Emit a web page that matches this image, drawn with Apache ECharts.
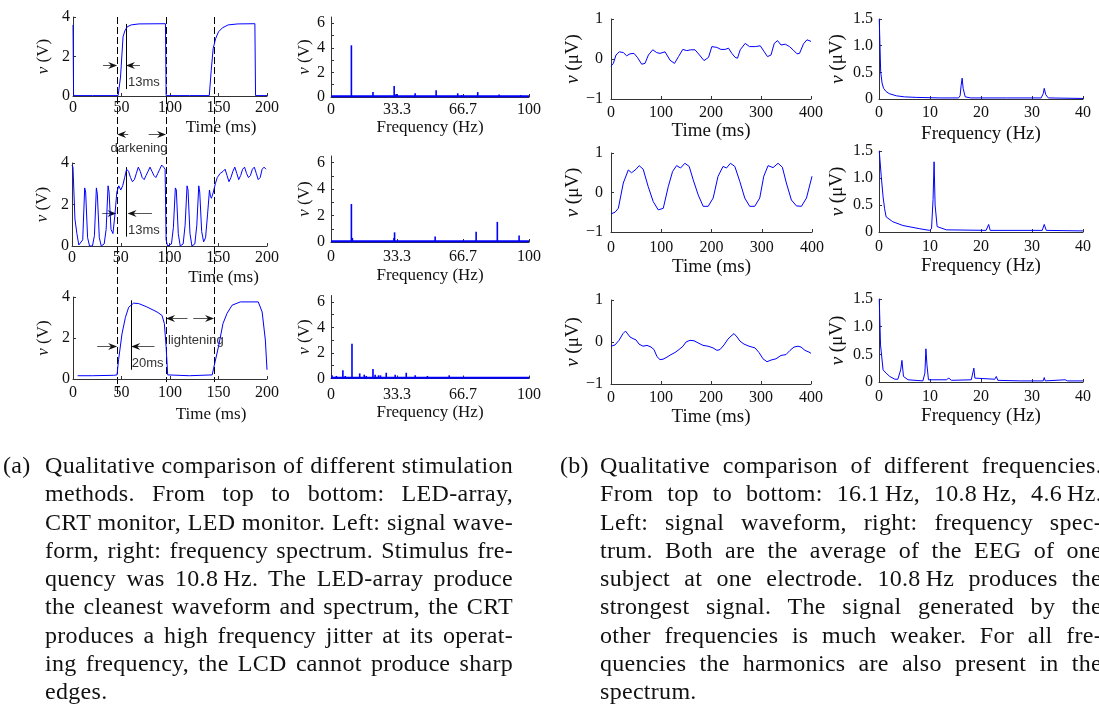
<!DOCTYPE html>
<html>
<head>
<meta charset="utf-8">
<script src="https://cdn.jsdelivr.net/npm/echarts@6/dist/echarts.min.js"></script>
<style>
  html, body { margin: 0; padding: 0; background: #fff; overflow: hidden; }
  #chart { position: absolute; left: 0; top: 0; width: 1099px; height: 709px; }
  .cap { position: absolute; font-family: 'Liberation Serif', serif; font-size: 24px; letter-spacing: 0.3px; line-height: 28.3px; color: #111; }
  .cap .tag { position: absolute; top: 0; }
  .cap .ln { text-align: justify; text-align-last: justify; }
  .cap .ln.last { text-align-last: left; }
</style>
</head>
<body>
<div id="chart"></div>

<div class="cap" style="left:0;top:451px;width:513px">
  <span class="tag" style="left:3px">(a)</span>
  <div style="margin-left:45px">
    <div class="ln">Qualitative comparison of different stimulation</div>
    <div class="ln">methods. From top to bottom: LED-array,</div>
    <div class="ln">CRT monitor, LED monitor. Left: signal wave-</div>
    <div class="ln">form, right: frequency spectrum. Stimulus fre-</div>
    <div class="ln">quency was 10.8&#8201;Hz. The LED-array produce</div>
    <div class="ln">the cleanest waveform and spectrum, the CRT</div>
    <div class="ln">produces a high frequency jitter at its operat-</div>
    <div class="ln">ing frequency, the LCD cannot produce sharp</div>
    <div class="ln last">edges.</div>
  </div>
</div>

<div class="cap" style="left:556px;top:451px;width:546px">
  <span class="tag" style="left:4px">(b)</span>
  <div style="margin-left:44px">
    <div class="ln">Qualitative comparison of different frequencies.</div>
    <div class="ln">From top to bottom: 16.1&#8201;Hz, 10.8&#8201;Hz, 4.6&#8201;Hz.</div>
    <div class="ln">Left: signal waveform, right: frequency spec-</div>
    <div class="ln">trum. Both are the average of the EEG of one</div>
    <div class="ln">subject at one electrode. 10.8&#8201;Hz produces the</div>
    <div class="ln">strongest signal. The signal generated by the</div>
    <div class="ln">other frequencies is much weaker. For all fre-</div>
    <div class="ln">quencies the harmonics are also present in the</div>
    <div class="ln last">spectrum.</div>
  </div>
</div>

<script>
// ---- (a) stimulus waveforms [t ms, v V] ----
var ledArrayWave = [[0,3.6],[0.6,0.02],[20,0.02],[46.5,0.02],[49,0.96],[51.6,3.0],[53.4,3.29],[55.8,3.5],[60,3.6],[68,3.65],[95.3,3.66],
  [96,0.02],[120,0.02],[140.5,0.02],[142.5,1.3],[144.5,2.4],[147,2.9],[150,3.25],[154,3.45],[160,3.6],[170,3.65],[187.5,3.66],[188.2,0.02],[200,0.02]];
var crtWave = [[0,3.9],[1,3.8],[3,1.3],[5,0.6],[7,0.05],[9,0.0],[11,0.3],[13,2.8],[14,2.6],[16,0.4],[18,0.0],[21,0.0],[23,0.5],[25,2.8],[26,2.5],
  [28,0.4],[30,0.0],[33,0.1],[35,0.8],[37,2.9],[38,2.6],[40,0.8],[42,0.6],[44,1.5],[46,2.6],[48,2.9],[50,2.7],[52,2.9],[54,3.3],[56,3.7],
  [58,3.6],[60,3.3],[62,3.1],[64,3.2],[66,3.5],[68,3.8],[70,3.6],[72,3.3],[74,3.2],[76,3.4],[78,3.6],[80,3.8],[82,3.6],[84,3.4],[86,3.3],
  [88,3.5],[90,3.7],[92,3.9],[94,3.8],[95.5,3.7],[96.5,0.3],[98,0.0],[100,0.0],[102,0.1],[104,0.9],[106,2.8],[107,2.7],[109,0.6],[111,0.0],
  [114,0.1],[116,1.0],[118,2.9],[119,2.7],[121,0.6],[123,0.0],[126,0.1],[128,1.0],[130,2.9],[131,2.6],[133,0.7],[135,0.2],[137,0.4],
  [139,1.5],[141,2.7],[142,2.4],[143,2.3],[145,2.6],[147,3.0],[149,3.3],[152,3.5],[155,3.6],[157,3.7],[159,3.4],[161,3.1],[163,3.3],
  [165,3.6],[167,3.8],[169,3.5],[171,3.2],[173,3.4],[175,3.7],[177,3.8],[179,3.5],[181,3.3],[183,3.4],[185,3.7],[187,3.8],[189,3.5],
  [191,3.2],[193,3.3],[195,3.7],[197,3.8],[199,3.7]];
var lcdWave = [[4.8,0.16],[20,0.16],[42,0.18],[45.4,0.2],[47,0.94],[50.5,2.2],[54,3.0],[57.4,3.5],[62.5,3.7],[67.7,3.68],[76,3.52],[86.6,3.27],
  [91.8,3.1],[94.2,2.7],[96,1.58],[97.6,0.2],[120,0.16],[143.5,0.2],[145,0.53],[150,1.58],[154.6,2.7],[158.8,3.2],[164,3.6],[172.5,3.76],
  [191,3.76],[195,3.27],[198.3,1.9],[200,0.45]];

// ---- (a) spectra [f Hz, v V] ----
var ledArraySpec = [[10.3,4.2],[21.2,0.4],[31.9,0.9],[32.9,0.25],[42.5,0.3],[53.1,0.55],[64,0.3],[66,0.15],[74.1,0.4],[84.9,0.2],[95.8,0.15]];
var crtSpec = [[10.3,2.87],[10.8,0.3],[31.8,0.3],[32.1,0.73],[52.6,0.42],[73.3,0.78],[84,1.52],[95,0.49]];
var lcdSpec = [[0.5,0.25],[2.7,0.2],[6,0.65],[7.2,0.2],[10.6,2.72],[14.5,0.4],[16.8,0.3],[17.8,0.2],[21.2,0.75],[22.3,0.3],[24,0.25],
  [25,0.25],[27.9,0.45],[32.4,0.3],[38,0.45],[42.5,0.25],[48.7,0.2],[59.7,0.25],[66.4,0.1]];
var specFloor = [[0,0.06],[100,0.06]];

// ---- (b) EEG waveforms [t ms, v uV] ----
var eeg16Wave = [[0,-0.18],[4.7,-0.11],[10,0.1],[16.7,0.18],[24.7,0.16],[31.4,0.08],[38,0.13],[46,0.14],[52.8,0.04],[61.4,-0.13],[68,-0.11],
  [74.8,0.1],[83.5,0.23],[91.5,0.16],[98,0.14],[108,0.18],[118,-0.03],[127,-0.11],[135,0.06],[143.6,0.24],[151.6,0.21],[159.6,0.23],
  [168,0.23],[177,0.1],[186,-0.04],[195,0.04],[201.7,0.31],[211.7,0.29],[219.7,0.24],[228.4,0.24],[235,0.27],[241.7,0.14],[248.4,0.04],
  [253,0.02],[258.4,0.23],[268.4,0.39],[277,0.31],[288.5,0.31],[298.5,0.33],[306.5,0.18],[313,0.06],[320,0.1],[326.5,0.39],[333,0.46],
  [340,0.35],[348.6,0.37],[357,0.31],[364,0.23],[372,0.13],[377,0.14],[385,0.38],[392,0.48],[400,0.44]];
var eeg11Wave = [[0,-0.54],[8,-0.5],[14.6,-0.4],[24.5,0.24],[34.4,0.57],[41,0.5],[50,0.59],[56,0.68],[64,0.59],[74,0.15],[84,-0.23],[94,-0.44],
  [104,-0.4],[114,0.15],[122.5,0.53],[130.5,0.68],[138.4,0.62],[147,0.74],[155.6,0.66],[163.6,0.32],[173.5,-0.06],[183.4,-0.35],[193.4,-0.35],
  [203.3,-0.14],[213,0.41],[223,0.66],[229.8,0.62],[237.7,0.74],[246.4,0.66],[256.3,0.28],[266.2,-0.14],[276,-0.35],[286,-0.35],[296,-0.14],
  [304,0.41],[312.6,0.68],[322.5,0.63],[332.5,0.74],[341,0.64],[349,0.24],[359,-0.19],[369,-0.34],[379,-0.35],[389,-0.14],[400,0.41]];
var eeg5Wave = [[0,-0.1],[8,-0.07],[16,0.04],[24,0.2],[29,0.26],[33,0.24],[38,0.12],[44,0.08],[50,0.05],[56,-0.05],[64,-0.1],[72,-0.08],
  [80,-0.12],[86,-0.18],[92,-0.35],[98,-0.42],[104,-0.41],[112,-0.36],[120,-0.3],[128,-0.25],[136,-0.18],[144,-0.1],[150,0],[158,0.04],
  [166,0.03],[174,-0.02],[184,-0.08],[194,-0.1],[204,-0.14],[212,-0.2],[218,-0.18],[226,-0.07],[234,0.07],[240,0.14],[246,0.2],[252,0.12],
  [258,0.02],[266,-0.05],[276,-0.1],[288,-0.14],[296,-0.25],[304,-0.4],[312,-0.47],[320,-0.43],[330,-0.4],[340,-0.32],[350,-0.3],[358,-0.2],
  [366,-0.12],[374,-0.1],[380,-0.12],[388,-0.2],[396,-0.24],[400,-0.27]];

// ---- (b) EEG spectra [f Hz, v uV] ----
var eeg16Spec = [[0.05,1.5],[0.33,0.51],[0.6,0.3],[0.9,0.2],[1.4,0.14],[2,0.1],[3.4,0.06],[5,0.04],[7.3,0.03],[12,0.02],[15.6,0.02],[15.9,0.06],
  [16.1,0.25],[16.3,0.39],[16.5,0.2],[16.9,0.04],[18,0.02],[25,0.02],[31.8,0.02],[32.2,0.1],[32.4,0.2],[32.7,0.08],[33.2,0.02],[40,0.01]];
var eeg11Spec = [[0.05,1.5],[0.45,1.02],[0.8,0.65],[1.1,0.43],[1.4,0.28],[2.7,0.19],[4.7,0.12],[8,0.06],[9.9,0.03],[10.3,0.06],[10.6,0.6],
  [10.8,1.3],[11,0.5],[11.4,0.1],[13.2,0.04],[21,0.03],[21.5,0.14],[21.8,0.03],[32,0.03],[32.4,0.14],[32.8,0.03],[40,0.02]];
var eeg5Spec = [[0.05,1.5],[0.3,0.67],[0.8,0.22],[1.4,0.16],[2.1,0.1],[3.1,0.05],[3.7,0.05],[4.25,0.22],[4.5,0.39],[4.8,0.1],[5.7,0.04],
  [8.6,0.02],[9,0.16],[9.2,0.6],[9.4,0.31],[9.7,0.04],[13.2,0.04],[13.7,0.07],[14.2,0.03],[18.1,0.04],[18.6,0.25],[18.8,0.07],[22.7,0.05],
  [23,0.1],[23.3,0.03],[27.6,0.02],[27.8,0.05],[28,0.02],[32.2,0.02],[32.4,0.08],[32.6,0.02],[36.5,0.04],[36.7,0.06],[37,0.02],[40,0.02]];

// ---- tick values ----
var timeTicksA = [0, 50, 100, 150, 200];
var voltTicksA = [0, 2, 4];
var freqTicksA = [0, 33.3, 66.7, 100];
var specTicksA = [0, 2, 4, 6];
var specMinorA = [0, 1, 2, 3, 4, 5, 6];
var timeTicksB = [0, 100, 200, 300, 400];
var eegTicks = [-1, 0, 1];
var freqTicksB = [0, 10, 20, 30, 40];
var eegSpecTicks = [0, 0.5, 1.0, 1.5];

// ---- annotations on the (a) waveforms ----
var guideTimes = [[45.5, -0.8], [95.9, -0.15], [145.4, -0.15]];   // dashed: time, bottom value in lowest panel
var edgeMarks = [[0, 54.6, 3.65, 0.35], [1, 55.2, 3.8, 0.45], [2, 59.8, 3.84, 0.45]];
var arrows = [[0, 31, 45.5, 1.57], [0, 69, 54.6, 1.57], [0, 57, 45.5, -1.92], [0, 78, 95.9, -1.92],
  [1, 31, 45.5, 1.59], [1, 82, 57, 1.59], [2, 25, 45.5, 1.6], [2, 84, 60, 1.6], [2, 118, 95.9, 2.97], [2, 124, 145.4, 2.97]];
var notes = [[0, 56.7, 0.71, '13ms', 'left'], [0, 68, -2.63, 'darkening', 'center'], [1, 57.4, 0.74, '13ms', 'left'],
  [2, 60.5, 0.77, '20ms', 'left'], [2, 126.6, 1.9, 'lightening', 'center']];

var FONT = 'Liberation Serif';
var BLUE = '#0000ff';
var AXC = '#333';

var chart = echarts.init(document.getElementById('chart'));

var rects = [
  [73, 17, 194, 79], [72, 163, 195, 83], [73, 297, 194, 82],
  [331, 17, 198, 80], [331, 156, 198, 86], [331, 295.5, 198, 83],
  [611, 19, 200, 80], [611, 153, 201, 79], [611, 300, 200, 84],
  [879, 19, 204, 80], [879, 151, 204, 81], [879, 299, 204, 83]
];
var grids = rects.map(function (r) {
  return { left: r[0], top: r[1], width: r[2], height: r[3], containLabel: false };
});

function xAx(i, max, ticks, name, gap, margin, size, shift, fmt) {
  return {
    type: 'value', gridIndex: i, min: 0, max: max,
    name: name, nameLocation: 'middle', nameGap: gap,
    nameTextStyle: { fontFamily: FONT, fontSize: size, color: '#111', padding: [0, 0, 0, shift * 2] },
    axisLine: { onZero: false, lineStyle: { color: AXC, width: 1 } },
    axisTick: { inside: true, length: 3, customValues: ticks, lineStyle: { color: AXC } },
    axisLabel: { customValues: ticks, fontFamily: FONT, fontSize: 16, color: '#111', margin: margin, formatter: fmt },
    splitLine: { show: false }
  };
}
function yAx(i, min, max, ticks, marks, unit, gap, margin, size, fmt) {
  return {
    type: 'value', gridIndex: i, min: min, max: max,
    name: '{i|v} (' + unit + ')', nameLocation: 'middle', nameGap: gap,
    nameTextStyle: { fontFamily: FONT, fontSize: size, color: '#111',
      rich: { i: { fontFamily: FONT, fontSize: size, fontStyle: 'italic', color: '#111' } } },
    axisLine: { lineStyle: { color: AXC, width: 1 } },
    axisTick: { inside: true, length: 3, customValues: marks, lineStyle: { color: AXC } },
    axisLabel: { customValues: ticks, fontFamily: FONT, fontSize: 16, color: '#111', margin: margin, formatter: fmt },
    splitLine: { show: false }
  };
}
var plain = function (v) { return v < 0 ? '\u2212' + Math.abs(v) : String(v); };
var oneDec = function (v) { return v === 0 ? '0' : v.toFixed(1); };

var xAxes = [
  xAx(0, 200, timeTicksA, 'Time (ms)', 23, 4, 17, 51, plain),
  xAx(1, 200, timeTicksA, 'Time (ms)', 23, 4, 17, 54, plain),
  xAx(2, 200, timeTicksA, 'Time (ms)', 27, 6, 17, 41, plain),
  xAx(3, 100, freqTicksA, 'Frequency (Hz)', 22, 5, 17, 0, plain),
  xAx(4, 100, freqTicksA, 'Frequency (Hz)', 25, 7, 17, 0, plain),
  xAx(5, 100, freqTicksA, 'Frequency (Hz)', 26, 8, 17, 0, plain),
  xAx(6, 400, timeTicksB, 'Time (ms)', 19, 6, 19, 0, plain),
  xAx(7, 400, timeTicksB, 'Time (ms)', 26, 8, 19, 0, plain),
  xAx(8, 400, timeTicksB, 'Time (ms)', 24, 6, 19, 0, plain),
  xAx(9, 40, freqTicksB, 'Frequency (Hz)', 26, 6, 19, 0, plain),
  xAx(10, 40, freqTicksB, 'Frequency (Hz)', 25, 7, 19, 0, plain),
  xAx(11, 40, freqTicksB, 'Frequency (Hz)', 25, 7, 19, 0, plain)
];
var yAxes = [
  yAx(0, 0, 4, voltTicksA, voltTicksA, 'V', 21, 3, 17, plain),
  yAx(1, 0, 4, voltTicksA, voltTicksA, 'V', 21, 3, 17, plain),
  yAx(2, 0, 4, voltTicksA, voltTicksA, 'V', 21, 3, 17, plain),
  yAx(3, 0, 6.5, specTicksA, specMinorA, 'V', 16, 6, 17, plain),
  yAx(4, 0, 6.5, specTicksA, specMinorA, 'V', 16, 6, 17, plain),
  yAx(5, 0, 6.5, specTicksA, specMinorA, 'V', 16, 6, 17, plain),
  yAx(6, -1, 1, eegTicks, eegTicks, '\u03bcV', 25, 8, 19, plain),
  yAx(7, -1, 1, eegTicks, eegTicks, '\u03bcV', 25, 8, 19, plain),
  yAx(8, -1, 1, eegTicks, eegTicks, '\u03bcV', 25, 8, 19, plain),
  yAx(9, 0, 1.5, eegSpecTicks, eegSpecTicks, '\u03bcV', 32, 6, 19, oneDec),
  yAx(10, 0, 1.5, eegSpecTicks, eegSpecTicks, '\u03bcV', 32, 6, 19, oneDec),
  yAx(11, 0, 1.5, eegSpecTicks, eegSpecTicks, '\u03bcV', 32, 6, 19, oneDec)
];

function lineS(i, data, w) {
  return { type: 'line', xAxisIndex: i, yAxisIndex: i, data: data, showSymbol: false, silent: true,
    lineStyle: { color: BLUE, width: w || 1 } };
}
function barS(i, data) {
  return { type: 'bar', xAxisIndex: i, yAxisIndex: i, data: data, barWidth: 1.6, silent: true,
    itemStyle: { color: BLUE } };
}

var series = [
  lineS(0, ledArrayWave), lineS(1, crtWave), lineS(2, lcdWave),
  lineS(3, specFloor, 2), barS(3, ledArraySpec),
  lineS(4, specFloor, 2), barS(4, crtSpec),
  lineS(5, specFloor, 2), barS(5, lcdSpec),
  lineS(6, eeg16Wave), lineS(7, eeg11Wave), lineS(8, eeg5Wave),
  lineS(9, eeg16Spec), lineS(10, eeg11Spec), lineS(11, eeg5Spec)
];

chart.setOption({
  animation: false,
  backgroundColor: '#fff',
  grid: grids,
  xAxis: xAxes,
  yAxis: yAxes,
  series: series
});

// annotation overlay placed through the axes of the (a) waveform panels
function px(i, t, v) {
  return chart.convertToPixel({ xAxisIndex: i, yAxisIndex: i }, [t, v]);
}
var g = [];
guideTimes.forEach(function (d) {
  var p1 = px(0, d[0], 4), p2 = px(2, d[0], d[1]);
  var x = Math.round(p1[0]) + 0.5;
  g.push({ type: 'line', silent: true, shape: { x1: x, y1: p1[1], x2: x, y2: p2[1] },
    style: { stroke: '#000', lineWidth: 1, lineDash: [7, 3] } });
});
edgeMarks.forEach(function (d) {
  var p1 = px(d[0], d[1], d[2]), p2 = px(d[0], d[1], d[3]);
  var x = Math.round(p1[0]) + 0.5;
  g.push({ type: 'line', silent: true, shape: { x1: x, y1: p1[1], x2: x, y2: p2[1] },
    style: { stroke: '#000', lineWidth: 1 } });
});
arrows.forEach(function (d) {
  var p1 = px(d[0], d[1], d[3]), p2 = px(d[0], d[2], d[3]);
  var dir = p2[0] > p1[0] ? 1 : -1;
  var y = Math.round(p1[1]) + 0.5;
  g.push({ type: 'line', silent: true, shape: { x1: p1[0], y1: y, x2: p2[0] - dir * 4, y2: y },
    style: { stroke: '#555', lineWidth: 1 } });
  g.push({ type: 'polygon', silent: true,
    shape: { points: [[p2[0], y], [p2[0] - dir * 9, y - 3.5], [p2[0] - dir * 6, y], [p2[0] - dir * 9, y + 3.5]] },
    style: { fill: '#111' } });
});
notes.forEach(function (d) {
  var p = px(d[0], d[1], d[2]);
  g.push({ type: 'text', silent: true, x: p[0], y: p[1],
    style: { text: d[3], fontFamily: 'Liberation Sans', fontSize: 13, fill: '#333', align: d[4], verticalAlign: 'middle' } });
});
chart.setOption({ graphic: g });
</script>
</body>
</html>
